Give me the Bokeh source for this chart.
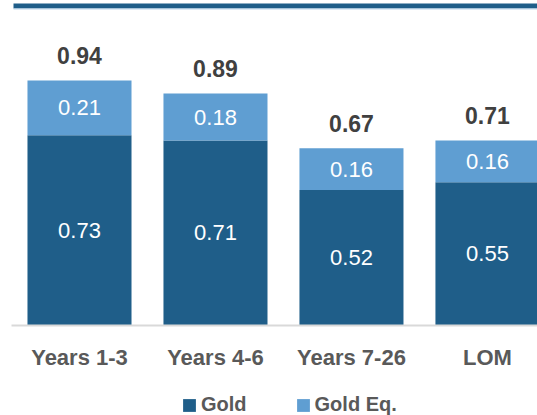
from bokeh.plotting import figure
from bokeh.layouts import column
from bokeh.models import ColumnDataSource, Legend, LegendItem, BoxAnnotation, FixedTicker, Range1d
from bokeh.core.properties import value
from bokeh.embed import file_html
from bokeh.resources import INLINE

categories = ["Years 1-3", "Years 4-6", "Years 7-26", "LOM"]
gold = [0.73, 0.71, 0.52, 0.55]
gold_eq = [0.21, 0.18, 0.16, 0.16]
totals = [0.94, 0.89, 0.67, 0.71]
series_names = ["Gold", "Gold Eq."]

DARK = "#1F5E89"
LIGHT = "#5F9ED2"
FONT = "Liberation Sans"

xs = list(range(len(categories)))
tops = [g + e for g, e in zip(gold, gold_eq)]
src = ColumnDataSource(dict(
    x=xs,
    gold=gold,
    eq_top=tops,
    gold_mid=[g / 2 for g in gold],
    eq_mid=[(g + t) / 2 for g, t in zip(gold, tops)],
    gold_lbl=[f"{v:.2f}" for v in gold],
    eq_lbl=[f"{v:.2f}" for v in gold_eq],
    tot_lbl=[f"{v:.2f}" for v in totals],
))

W = 537
MAIN_H = 390
LEG_H = 415 - MAIN_H
FRAME_H = 325
PX_UNIT = 260.6
Y_END = FRAME_H / PX_UNIT
X0, X1 = -0.5, 3.368

p = figure(width=W, height=MAIN_H, output_backend="svg", toolbar_location=None,
           x_range=Range1d(X0, X1), y_range=Range1d(0, Y_END),
           min_border_left=11, min_border_right=0, min_border_top=0,
           min_border_bottom=MAIN_H - FRAME_H)
p.outline_line_color = None
p.xgrid.visible = False
p.ygrid.visible = False
p.yaxis.visible = False
p.background_fill_color = "white"
p.border_fill_color = "white"

w = 0.765
p.vbar(x="x", bottom=0, top="gold", width=w, source=src,
       fill_color=DARK, line_color=None)
p.vbar(x="x", bottom="gold", top="eq_top", width=w, source=src,
       fill_color=LIGHT, line_color=None)

p.text(x="x", y="gold_mid", text="gold_lbl", source=src, text_color="white",
       text_font=value(FONT), text_font_size="22px", text_align="center",
       text_baseline="middle")
p.text(x="x", y="eq_mid", text="eq_lbl", source=src, text_color="white",
       text_font=value(FONT), text_font_size="22px", text_align="center",
       text_baseline="middle")
p.text(x="x", y="eq_top", text="tot_lbl", source=src, text_color="#404040",
       text_font=value(FONT), text_font_size="23px", text_font_style="bold",
       text_align="center", text_baseline="middle", y_offset=-25)

# top rule (decoration)
step_px = 136.0
rule_left = X0 + 2 / step_px
p.add_layout(BoxAnnotation(top=Y_END - 3 / PX_UNIT, bottom=Y_END - 8 / PX_UNIT,
                           left=rule_left, fill_color=DARK, fill_alpha=1,
                           line_color=None))
p.add_layout(BoxAnnotation(top=Y_END - 8 / PX_UNIT, bottom=Y_END - 9 / PX_UNIT,
                           left=rule_left, fill_color="#BCD6EC", fill_alpha=1,
                           line_color=None))

ax = p.xaxis[0]
ax.ticker = FixedTicker(ticks=xs)
ax.major_label_overrides = {i: c for i, c in zip(xs, categories)}
ax.axis_line_color = "#D9D9D9"
ax.axis_line_width = 2
ax.major_tick_line_color = None
ax.minor_tick_line_color = None
ax.major_tick_out = 0
ax.major_tick_in = 0
ax.major_label_standoff = 19
ax.major_label_text_font = FONT
ax.major_label_text_font_size = "22px"
ax.major_label_text_font_style = "bold"
ax.major_label_text_color = "#595959"

# legend strip: same series drawn out of view, only their legend swatches show
q = figure(width=W, height=LEG_H, output_backend="svg", toolbar_location=None,
           x_axis_type=None, y_axis_type=None, x_range=Range1d(-100, -99),
           y_range=Range1d(10, 11), min_border=0)
q.outline_line_color = None
q.xgrid.visible = False
q.ygrid.visible = False
q.background_fill_color = "white"
q.border_fill_color = "white"
d_gold = q.vbar(x="x", bottom=0, top="gold", width=w, source=src,
                fill_color=DARK, line_color=None)
d_eq = q.vbar(x="x", bottom="gold", top="eq_top", width=w, source=src,
              fill_color=LIGHT, line_color=None)
legend = Legend(items=[LegendItem(label=series_names[0], renderers=[d_gold]),
                       LegendItem(label=series_names[1], renderers=[d_eq])],
                orientation="horizontal", location=(170, -1),
                glyph_width=16, glyph_height=16, label_standoff=4, spacing=48,
                padding=0, margin=0, border_line_color=None,
                background_fill_alpha=0,
                label_text_font=FONT, label_text_font_size="20px",
                label_text_font_style="bold", label_text_color="#595959")
q.add_layout(legend)

layout = column(p, q, spacing=0)
open("out.html", "w").write(file_html(layout, INLINE))
